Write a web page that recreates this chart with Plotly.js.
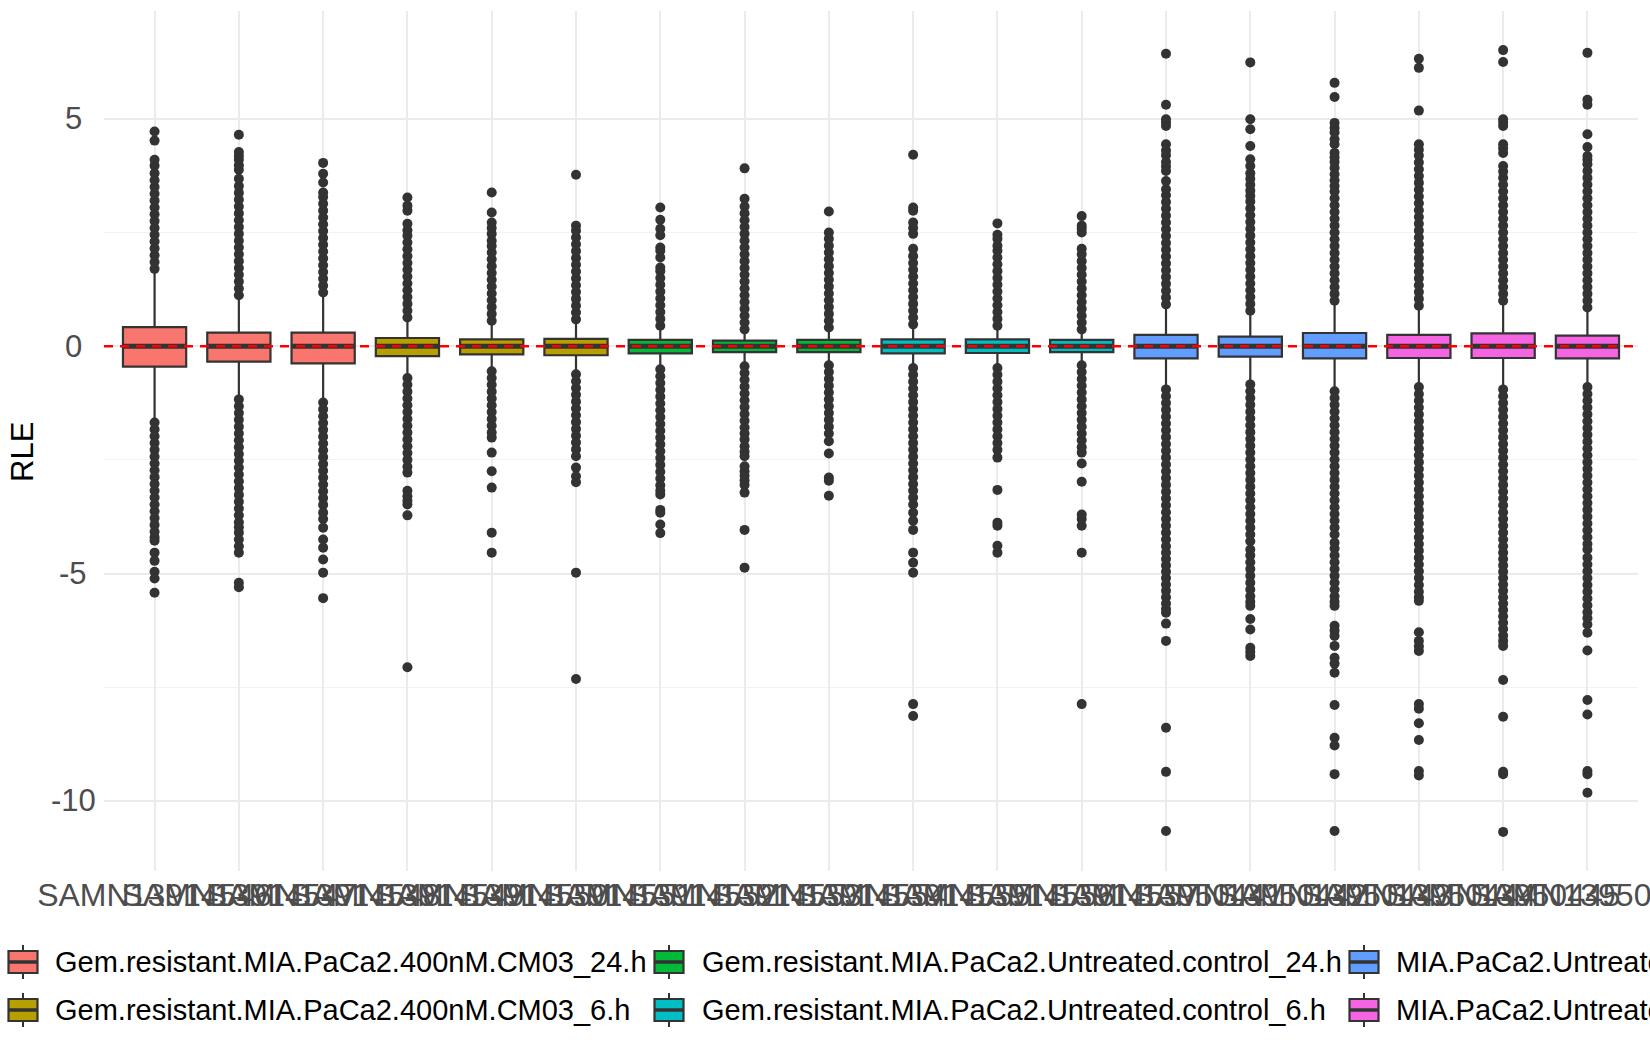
<!DOCTYPE html>
<html>
<head>
<meta charset="utf-8">
<script src="https://cdn.plot.ly/plotly-3.0.1.min.js"></script>
<style>
  html, body { margin: 0; padding: 0; background: #fff; }
  #chart { width: 1650px; height: 1050px; }
</style>
</head>
<body>
<div id="chart"></div>
<script>
'use strict';

// sample ids on the x axis (the labels overlap in the original, so they are approximate)
const samples = ['SAMN13914546', 'SAMN13914547', 'SAMN13914548', 'SAMN13914549', 'SAMN13914550', 'SAMN13914551',
    'SAMN13914552', 'SAMN13914553', 'SAMN13914554', 'SAMN13914555', 'SAMN13914556', 'SAMN13914557',
    'SAMN13950441', 'SAMN13950442', 'SAMN13950443', 'SAMN13950444', 'SAMN13950445', 'SAMN13950446'];

const groups = ['Gem.resistant.MIA.PaCa2.400nM.CM03_24.h', 'Gem.resistant.MIA.PaCa2.400nM.CM03_6.h',
    'Gem.resistant.MIA.PaCa2.Untreated.control_24.h', 'Gem.resistant.MIA.PaCa2.Untreated.control_6.h',
    'MIA.PaCa2.Untreated.control_24.h', 'MIA.PaCa2.Untreated.control_6.h'];
const groupColors = ['#F8766D', '#B79F00', '#00BA38', '#00BFC4', '#619CFF', '#F564E3'];
const sampleGroup = [0, 0, 0, 1, 1, 1, 2, 2, 2, 3, 3, 3, 4, 4, 4, 5, 5, 5];

const yTicks = [-10, -5, 0, 5];
const yTickText = ['-10', '-5', '0', '5'];

// box statistics per sample
const q1 = [-0.45, -0.34, -0.38, -0.22, -0.18, -0.20, -0.16, -0.13, -0.13, -0.16, -0.15, -0.13, -0.27, -0.23, -0.27, -0.26, -0.26, -0.27];
const medians = [0, 0, 0, 0, 0, 0, 0, 0, 0, 0, 0, 0, 0, 0, 0, 0, 0, 0];
const q3 = [0.42, 0.30, 0.30, 0.18, 0.15, 0.16, 0.14, 0.12, 0.14, 0.15, 0.15, 0.14, 0.25, 0.21, 0.29, 0.25, 0.28, 0.23];
const whiskerLow = [-1.65, -1.17, -1.24, -0.70, -0.55, -0.62, -0.51, -0.44, -0.42, -0.48, -0.48, -0.42, -0.95, -0.84, -0.99, -0.90, -0.95, -0.90];
const whiskerHigh = [1.62, 1.11, 1.18, 0.63, 0.56, 0.59, 0.45, 0.37, 0.41, 0.48, 0.45, 0.37, 0.92, 0.78, 1.00, 0.89, 1.00, 0.85];

// outliers above the upper whisker, per sample
const outliersHigh = [
    [1.7, 1.85, 2.0, 2.15, 2.3, 2.45, 2.6, 2.75, 2.9, 3.05, 3.2, 3.35, 3.5, 3.65, 3.8, 3.97, 4.1, 4.52, 4.72],
    [1.12, 1.27, 1.42, 1.57, 1.72, 1.87, 2.02, 2.17, 2.32, 2.47, 2.62, 2.77, 2.92, 3.07, 3.22, 3.37, 3.52, 3.68, 3.88, 3.98, 4.1, 4.18, 4.27, 4.65],
    [1.18, 1.33, 1.48, 1.63, 1.78, 1.93, 2.08, 2.23, 2.38, 2.53, 2.68, 2.83, 2.98, 3.13, 3.28, 3.38, 3.6, 3.79, 4.03],
    [0.63, 0.78, 0.93, 1.08, 1.23, 1.38, 1.53, 1.68, 1.83, 1.98, 2.13, 2.28, 2.43, 2.55, 2.69, 2.98, 3.09, 3.27],
    [0.56, 0.71, 0.86, 1.01, 1.16, 1.31, 1.46, 1.61, 1.76, 1.91, 2.06, 2.2, 2.32, 2.47, 2.6, 2.72, 2.94, 3.38],
    [0.59, 0.74, 0.89, 1.04, 1.19, 1.34, 1.49, 1.64, 1.79, 1.94, 2.09, 2.24, 2.39, 2.54, 2.65, 3.77],
    [0.45, 0.6, 0.75, 0.9, 1.05, 1.2, 1.35, 1.5, 1.65, 1.73, 1.95, 2.1, 2.17, 2.44, 2.58, 2.78, 3.05],
    [0.37, 0.52, 0.67, 0.82, 0.97, 1.12, 1.27, 1.42, 1.57, 1.72, 1.87, 2.02, 2.17, 2.32, 2.47, 2.62, 2.77, 2.92, 3.07, 3.24, 3.91],
    [0.41, 0.56, 0.71, 0.86, 1.01, 1.16, 1.31, 1.46, 1.61, 1.76, 1.91, 2.06, 2.21, 2.36, 2.5, 2.96],
    [0.48, 0.63, 0.78, 0.93, 1.08, 1.23, 1.38, 1.53, 1.68, 1.83, 1.98, 2.14, 2.47, 2.6, 2.72, 2.98, 3.05, 4.21],
    [0.45, 0.6, 0.75, 0.9, 1.05, 1.2, 1.35, 1.5, 1.65, 1.8, 1.95, 2.1, 2.21, 2.36, 2.45, 2.7],
    [0.37, 0.52, 0.67, 0.82, 0.97, 1.12, 1.27, 1.42, 1.57, 1.72, 1.87, 2.02, 2.14, 2.5, 2.58, 2.65, 2.86],
    [0.92, 1.07, 1.22, 1.37, 1.52, 1.67, 1.82, 1.97, 2.12, 2.27, 2.42, 2.57, 2.72, 2.87, 3.02, 3.17, 3.32, 3.45, 3.63, 3.85, 3.95, 4.05, 4.2, 4.3, 4.44, 4.84, 4.92, 4.99, 5.31, 6.43],
    [0.78, 0.93, 1.08, 1.23, 1.38, 1.53, 1.68, 1.83, 1.98, 2.13, 2.28, 2.43, 2.58, 2.73, 2.88, 3.03, 3.18, 3.3, 3.42, 3.55, 3.68, 3.8, 3.96, 4.11, 4.4, 4.77, 4.99, 6.24],
    [1.0, 1.15, 1.3, 1.45, 1.6, 1.75, 1.9, 2.05, 2.2, 2.35, 2.5, 2.65, 2.8, 2.95, 3.1, 3.25, 3.4, 3.52, 3.65, 3.78, 3.92, 4.05, 4.15, 4.25, 4.44, 4.55, 4.7, 4.8, 4.91, 5.48, 5.79],
    [0.89, 1.04, 1.19, 1.34, 1.49, 1.64, 1.79, 1.94, 2.09, 2.24, 2.39, 2.54, 2.69, 2.84, 2.99, 3.14, 3.29, 3.44, 3.59, 3.74, 3.89, 4.04, 4.19, 4.32, 4.44, 5.18, 6.12, 6.32],
    [1.0, 1.15, 1.3, 1.45, 1.6, 1.75, 1.9, 2.05, 2.2, 2.35, 2.5, 2.65, 2.8, 2.95, 3.1, 3.25, 3.4, 3.55, 3.7, 3.84, 3.96, 4.25, 4.35, 4.44, 4.84, 4.92, 4.99, 6.25, 6.51],
    [0.85, 1.0, 1.15, 1.3, 1.45, 1.6, 1.75, 1.9, 2.05, 2.2, 2.35, 2.5, 2.65, 2.8, 2.95, 3.1, 3.25, 3.4, 3.55, 3.7, 3.85, 4.0, 4.1, 4.18, 4.38, 4.66, 5.31, 5.42, 6.45]
];

// outliers below the lower whisker, per sample
const outliersLow = [
    [-1.68, -1.83, -1.98, -2.13, -2.28, -2.43, -2.58, -2.73, -2.88, -3.03, -3.18, -3.33, -3.48, -3.63, -3.78, -3.93, -4.08, -4.2, -4.28, -4.54, -4.72, -4.96, -5.11, -5.42],
    [-1.17, -1.32, -1.47, -1.62, -1.77, -1.92, -2.07, -2.22, -2.37, -2.52, -2.67, -2.82, -2.97, -3.12, -3.27, -3.42, -3.57, -3.72, -3.87, -3.98, -4.1, -4.25, -4.4, -4.54, -5.2, -5.3],
    [-1.24, -1.39, -1.54, -1.69, -1.84, -1.99, -2.14, -2.29, -2.44, -2.59, -2.74, -2.89, -3.04, -3.19, -3.34, -3.49, -3.66, -3.8, -3.99, -4.25, -4.43, -4.69, -4.98, -5.54],
    [-0.7, -0.85, -1.0, -1.15, -1.3, -1.45, -1.6, -1.75, -1.9, -2.05, -2.2, -2.35, -2.5, -2.65, -2.78, -3.18, -3.3, -3.4, -3.48, -3.72, -7.06],
    [-0.55, -0.7, -0.85, -1.0, -1.15, -1.3, -1.45, -1.6, -1.75, -1.9, -2.01, -2.34, -2.75, -3.11, -4.1, -4.54],
    [-0.62, -0.77, -0.92, -1.07, -1.22, -1.37, -1.52, -1.67, -1.82, -1.97, -2.12, -2.27, -2.42, -2.67, -2.86, -2.99, -4.98, -7.32],
    [-0.51, -0.66, -0.81, -0.96, -1.11, -1.26, -1.41, -1.56, -1.71, -1.86, -2.01, -2.16, -2.31, -2.46, -2.61, -2.76, -2.91, -3.06, -3.18, -3.26, -3.6, -3.66, -3.92, -4.11],
    [-0.44, -0.59, -0.74, -0.89, -1.04, -1.19, -1.34, -1.49, -1.64, -1.79, -1.92, -2.05, -2.2, -2.32, -2.42, -2.64, -2.75, -2.85, -2.95, -3.05, -3.22, -4.04, -4.87],
    [-0.42, -0.57, -0.72, -0.87, -1.02, -1.17, -1.32, -1.47, -1.62, -1.77, -1.92, -2.09, -2.36, -2.89, -2.96, -3.29],
    [-0.48, -0.63, -0.78, -0.93, -1.08, -1.23, -1.38, -1.53, -1.68, -1.83, -1.98, -2.13, -2.28, -2.43, -2.58, -2.73, -2.88, -3.03, -3.18, -3.33, -3.48, -3.66, -3.84, -4.04, -4.54, -4.76, -4.98, -7.87, -8.13],
    [-0.48, -0.63, -0.78, -0.93, -1.08, -1.23, -1.38, -1.53, -1.68, -1.83, -1.98, -2.13, -2.28, -2.45, -3.16, -3.88, -3.95, -4.39, -4.54],
    [-0.42, -0.57, -0.72, -0.87, -1.02, -1.17, -1.32, -1.47, -1.62, -1.77, -1.92, -2.07, -2.22, -2.34, -2.58, -2.98, -3.7, -3.8, -3.95, -4.54, -7.87],
    [-0.95, -1.1, -1.25, -1.4, -1.55, -1.7, -1.85, -2.0, -2.15, -2.3, -2.45, -2.6, -2.75, -2.9, -3.05, -3.2, -3.35, -3.5, -3.65, -3.8, -3.95, -4.1, -4.25, -4.4, -4.54, -4.68, -4.82, -4.96, -5.1, -5.24, -5.38, -5.52, -5.66, -5.78, -5.86, -6.1, -6.48, -8.39, -9.36, -10.66],
    [-0.84, -0.99, -1.14, -1.29, -1.44, -1.59, -1.74, -1.89, -2.04, -2.19, -2.34, -2.49, -2.64, -2.79, -2.94, -3.09, -3.24, -3.39, -3.54, -3.69, -3.84, -3.99, -4.14, -4.29, -4.47, -4.6, -4.75, -4.9, -5.05, -5.2, -5.35, -5.5, -5.62, -5.71, -6.0, -6.23, -6.63, -6.72, -6.81],
    [-0.99, -1.14, -1.29, -1.44, -1.59, -1.74, -1.89, -2.04, -2.19, -2.34, -2.49, -2.64, -2.79, -2.94, -3.09, -3.24, -3.39, -3.54, -3.69, -3.84, -3.99, -4.14, -4.32, -4.45, -4.6, -4.75, -4.9, -5.05, -5.2, -5.35, -5.5, -5.62, -5.71, -6.15, -6.25, -6.37, -6.59, -6.85, -6.98, -7.18, -7.89, -8.61, -8.78, -9.41, -10.66],
    [-0.9, -1.05, -1.2, -1.35, -1.5, -1.65, -1.8, -1.95, -2.1, -2.25, -2.4, -2.55, -2.7, -2.85, -3.0, -3.15, -3.3, -3.45, -3.6, -3.75, -3.9, -4.05, -4.2, -4.35, -4.5, -4.65, -4.8, -4.95, -5.1, -5.25, -5.4, -5.52, -5.6, -6.29, -6.48, -6.6, -6.7, -7.87, -7.97, -8.29, -8.66, -9.34, -9.44],
    [-0.95, -1.1, -1.25, -1.4, -1.55, -1.7, -1.85, -2.0, -2.15, -2.3, -2.45, -2.6, -2.75, -2.9, -3.05, -3.2, -3.35, -3.5, -3.65, -3.8, -3.95, -4.1, -4.25, -4.4, -4.54, -4.68, -4.82, -4.96, -5.1, -5.24, -5.38, -5.52, -5.66, -5.8, -5.94, -6.08, -6.22, -6.36, -6.48, -6.59, -7.34, -8.15, -9.36, -9.41, -10.68],
    [-0.9, -1.05, -1.2, -1.35, -1.5, -1.65, -1.8, -1.95, -2.1, -2.25, -2.4, -2.55, -2.7, -2.85, -3.0, -3.15, -3.3, -3.45, -3.6, -3.75, -3.9, -4.05, -4.2, -4.35, -4.47, -4.65, -4.8, -4.95, -5.1, -5.25, -5.4, -5.55, -5.7, -5.85, -5.98, -6.12, -6.3, -6.69, -7.78, -8.1, -9.34, -9.41, -9.82]
];

const FONT = 'Liberation Sans, Arial, sans-serif';
const DARK = '#333333';
const BOX_WIDTH = 0.75;

// plot panel in pixels, used to place the legend and y labels like ggplot does
const W = 1650, H = 1050;
const M = { l: 104, r: 12, t: 11, b: 179 };
const PW = W - M.l - M.r, PH = H - M.t - M.b;
const px = x => (x - M.l) / PW;
const py = y => (H - M.b - y) / PH;

const traces = [];
const shapes = [];
const annotations = [];

samples.forEach((s, i) => {
    const g = sampleGroup[i];
    traces.push({
        type: 'box',
        x: [i],
        q1: [q1[i]],
        median: [medians[i]],
        q3: [q3[i]],
        lowerfence: [whiskerLow[i]],
        upperfence: [whiskerHigh[i]],
        width: BOX_WIDTH,
        whiskerwidth: 0,
        boxpoints: false,
        fillcolor: groupColors[g],
        line: { color: DARK, width: 2.2 },
        name: s,
        showlegend: false,
        hoverinfo: 'skip'
    });

    const pts = outliersHigh[i].concat(outliersLow[i]);
    traces.push({
        type: 'scatter',
        mode: 'markers',
        x: pts.map(() => i),
        y: pts,
        marker: { color: DARK, size: 10 },
        showlegend: false,
        hoverinfo: 'skip'
    });

    // ggplot draws a fatter median line
    shapes.push({
        type: 'line', xref: 'x', yref: 'y', layer: 'above',
        x0: i - BOX_WIDTH / 2 + 0.01, x1: i + BOX_WIDTH / 2 - 0.01,
        y0: medians[i], y1: medians[i],
        line: { color: DARK, width: 5 }
    });
});

// red dashed reference line at 0
shapes.push({
    type: 'line', xref: 'paper', yref: 'y', layer: 'above',
    x0: 0, x1: 1, y0: 0, y1: 0,
    line: { color: '#FF0000', width: 2.5, dash: '9px,7px' }
});

// y tick labels, centred as in the original
yTicks.forEach((v, k) => {
    annotations.push({
        text: yTickText[k],
        xref: 'paper', yref: 'y',
        x: px(73), y: v,
        xanchor: 'center', yanchor: 'middle',
        showarrow: false,
        font: { family: FONT, size: 31, color: '#4D4D4D' }
    });
});

// y axis title
annotations.push({
    text: 'RLE',
    xref: 'paper', yref: 'paper',
    x: px(23), y: py(452),
    xanchor: 'center', yanchor: 'middle',
    textangle: -90,
    showarrow: false,
    font: { family: FONT, size: 31, color: '#000' }
});

// legend at the bottom, filled column by column (2 rows x 3 columns)
const keyX = [23, 669, 1364];
const textX = [53, 700, 1394];
const rowY = [962, 1010];
groups.forEach((name, g) => {
    const col = Math.floor(g / 2), row = g % 2;
    const cx = keyX[col], cy = rowY[row];
    const paperLine = (x0, y0, x1, y1, w) => ({
        type: 'line', xref: 'paper', yref: 'paper',
        x0: px(x0), x1: px(x1), y0: py(y0), y1: py(y1),
        line: { color: DARK, width: w }
    });
    shapes.push(paperLine(cx, cy - 17, cx, cy + 17, 2));
    shapes.push({
        type: 'rect', xref: 'paper', yref: 'paper',
        x0: px(cx - 14.5), x1: px(cx + 14.5), y0: py(cy + 11), y1: py(cy - 11),
        fillcolor: groupColors[g],
        line: { color: DARK, width: 2.2 }
    });
    shapes.push(paperLine(cx - 14.5, cy, cx + 14.5, cy, 3.5));
    annotations.push({
        text: name,
        xref: 'paper', yref: 'paper',
        x: px(textX[col]), y: py(cy),
        xanchor: 'left', yanchor: 'middle',
        showarrow: false,
        font: { family: FONT, size: 29, color: '#000' }
    });
});

const layout = {
    width: W,
    height: H,
    paper_bgcolor: '#fff',
    plot_bgcolor: '#fff',
    margin: Object.assign({ autoexpand: false }, M),
    font: { family: FONT, color: '#4D4D4D' },
    showlegend: false,
    boxmode: 'overlay',
    xaxis: {
        range: [-0.6, 17.6],
        tickvals: samples.map((s, i) => i),
        ticktext: samples,
        tickangle: 0,
        ticklabeloverflow: 'allow',
        showgrid: true,
        gridcolor: '#EBEBEB',
        gridwidth: 2,
        zeroline: false,
        showline: false,
        ticks: '',
        ticklabelstandoff: 2,
        tickfont: { family: FONT, size: 32, color: '#4D4D4D' },
        fixedrange: true
    },
    yaxis: {
        range: [-11.54, 7.37],
        tickmode: 'array',
        tickvals: yTicks,
        showticklabels: false,
        showgrid: true,
        gridcolor: '#EBEBEB',
        gridwidth: 2,
        minor: { tickmode: 'array', tickvals: [-7.5, -2.5, 2.5], showgrid: true, gridcolor: '#F2F2F2', gridwidth: 1.2 },
        zeroline: false,
        showline: false,
        ticks: '',
        fixedrange: true
    },
    shapes: shapes,
    annotations: annotations
};

Plotly.newPlot('chart', traces, layout, { displayModeBar: false, staticPlot: true });
</script>
</body>
</html>
